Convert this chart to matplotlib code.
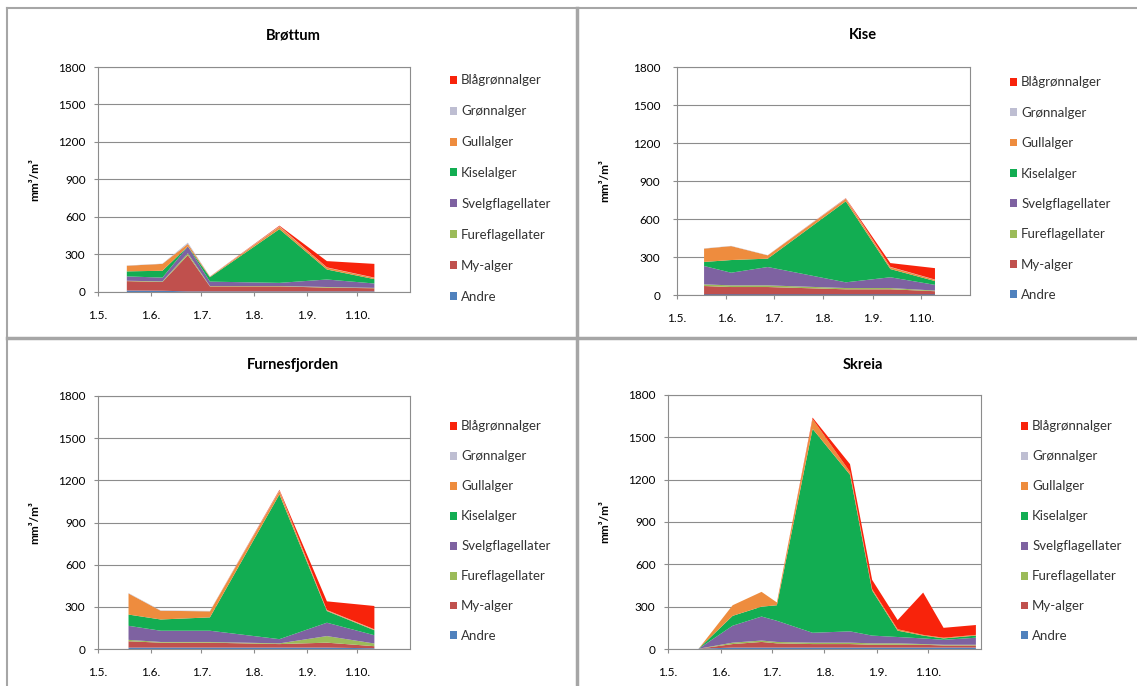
import numpy as np
import pandas as pd
import matplotlib
matplotlib.use('Agg')
import matplotlib.pyplot as plt
import matplotlib.dates as mdates
from matplotlib.lines import Line2D

plt.rcParams['font.family'] = ['Lato', 'DejaVu Sans']

# ── Data (mm3/m3), stacked bottom -> top ─────────────────────────────────
groups = ['Andre', 'My-alger', 'Fureflagellater', 'Svelgflagellater',
          'Kiselalger', 'Gullalger', 'Grønnalger', 'Blågrønnalger']
group_colors = ['#4F81BD', '#C0504D', '#9BBB59', '#7E62A1',
                '#12AD52', '#EE8C3E', '#BEBED2', '#F8230B']

brottum_dates = ['2009-05-18', '2009-06-08', '2009-06-23', '2009-07-06',
                 '2009-08-16', '2009-09-13', '2009-10-11']
brottum = {
    'Andre':            [12, 10, 5, 5, 5, 5, 5],
    'My-alger':         [75, 70, 290, 40, 40, 30, 25],
    'Fureflagellater':  [3, 5, 15, 3, 3, 5, 3],
    'Svelgflagellater': [35, 30, 55, 35, 25, 60, 35],
    'Kiselalger':       [40, 55, 0, 35, 430, 80, 35],
    'Gullalger':        [45, 55, 20, 5, 20, 15, 10],
    'Grønnalger':       [2, 2, 10, 2, 3, 2, 2],
    'Blågrønnalger':    [0, 0, 0, 0, 5, 50, 110],
}

kise_dates = ['2009-05-18', '2009-06-04', '2009-06-27', '2009-08-15',
              '2009-09-12', '2009-10-10']
kise = {
    'Andre':            [5, 5, 5, 5, 5, 5],
    'My-alger':         [66, 58, 58, 40, 40, 25],
    'Fureflagellater':  [13, 13, 13, 10, 10, 5],
    'Svelgflagellater': [145, 100, 145, 45, 85, 45],
    'Kiselalger':       [32, 100, 66, 640, 65, 30],
    'Gullalger':        [105, 110, 26, 20, 15, 10],
    'Grønnalger':       [2, 2, 2, 3, 2, 2],
    'Blågrønnalger':    [0, 0, 0, 2, 30, 90],
}

furnes_dates = ['2009-05-19', '2009-06-07', '2009-07-06', '2009-08-16',
                '2009-09-13', '2009-10-11']
furnes = {
    'Andre':            [10, 10, 10, 10, 10, 5],
    'My-alger':         [45, 35, 35, 25, 35, 15],
    'Fureflagellater':  [10, 5, 5, 5, 47, 19],
    'Svelgflagellater': [100, 80, 80, 30, 95, 59],
    'Kiselalger':       [80, 80, 95, 1030, 83, 35],
    'Gullalger':        [150, 62, 43, 25, 5, 5],
    'Grønnalger':       [3, 3, 3, 3, 2, 2],
    'Blågrønnalger':    [0, 0, 0, 5, 62, 166],
}

skreia_dates = ['2009-05-19', '2009-06-08', '2009-06-25', '2009-07-04',
                '2009-07-25', '2009-08-16', '2009-08-29', '2009-09-13',
                '2009-09-28', '2009-10-10', '2009-10-29']
skreia = {
    'Andre':            [2, 10, 10, 10, 10, 10, 10, 10, 10, 10, 10],
    'My-alger':         [0, 25, 40, 30, 25, 25, 20, 20, 20, 15, 15],
    'Fureflagellater':  [0, 10, 10, 10, 10, 10, 10, 10, 5, 5, 5],
    'Svelgflagellater': [0, 120, 170, 150, 70, 80, 55, 45, 40, 35, 50],
    'Kiselalger':       [0, 70, 70, 110, 1445, 1110, 320, 45, 20, 10, 15],
    'Gullalger':        [0, 75, 105, 20, 70, 20, 10, 10, 5, 5, 5],
    'Grønnalger':       [0, 0, 0, 0, 0, 0, 0, 0, 0, 0, 0],
    'Blågrønnalger':    [0, 0, 0, 0, 10, 55, 65, 65, 300, 70, 70],
}

y_ticks = [0, 300, 600, 900, 1200, 1500, 1800]
x_start, x_end = '2009-05-01', '2009-11-01'

W, H = 1137, 686
fig = plt.figure(figsize=(W / 100, H / 100), dpi=100)
fig.patch.set_facecolor('white')


def fx(px):
    return px / W


def fy(py):
    return 1 - py / H


def month_fmt(x, pos=None):
    d = mdates.num2date(x)
    return f"{d.day}.{d.month}."


def draw_panel(box, title, dates, data, title_xy, leg_xy, ylab_x, spacing, ypad=6):
    left, top, right, bottom = box
    ax = fig.add_axes([fx(left), fy(bottom), fx(right - left), (bottom - top) / H])
    d = pd.to_datetime(dates)
    ax.stackplot(d, *[data[g] for g in groups], colors=group_colors,
                 labels=groups, linewidth=0)
    ax.set_ylim(0, 1800)
    ax.set_yticks(y_ticks)
    ax.set_xlim(pd.Timestamp(x_start), pd.Timestamp(x_end))
    ax.xaxis.set_major_locator(mdates.MonthLocator(bymonth=range(5, 11)))
    ax.xaxis.set_major_formatter(plt.FuncFormatter(month_fmt))
    ax.grid(axis='y', color='#8C8C8C', linewidth=0.8)
    ax.set_axisbelow(True)
    for s in ax.spines.values():
        s.set_color('#8C8C8C')
        s.set_linewidth(0.8)
    ax.tick_params(axis='y', labelsize=8.5, length=3, color='#8C8C8C', pad=ypad)
    ax.tick_params(axis='x', labelsize=8.5, length=3, color='#8C8C8C', pad=10)

    ax.set_ylabel('mm³/m³', fontsize=8.5, fontweight='bold')
    ax.yaxis.set_label_coords((ylab_x - left) / (right - left), 0.5)

    fig.text(fx(title_xy[0]), fy(title_xy[1]), title, fontsize=10.5,
             fontweight='bold', ha='center', va='center')

    handles, labels = ax.get_legend_handles_labels()
    ax.legend(handles[::-1], labels[::-1], loc='upper left',
              bbox_to_anchor=(fx(leg_xy[0]), fy(leg_xy[1])),
              bbox_transform=fig.transFigure, frameon=False, fontsize=9.5,
              handlelength=0.55, handleheight=0.55, handletextpad=0.3,
              borderpad=0, borderaxespad=0, labelspacing=spacing,
              labelcolor='#333333')
    return ax


draw_panel((98, 67, 410, 292), 'Brøttum', brottum_dates, brottum,
           (293, 35), (450, 74.5), 40, 1.43)
draw_panel((677, 67, 970, 295), 'Kise', kise_dates, kise,
           (863, 35), (1010, 76.5), 610, 1.39, ypad=9)
draw_panel((98, 396, 410, 649), 'Furnesfjorden', furnes_dates, furnes,
           (293, 365), (450, 420.5), 40, 1.36)
draw_panel((668, 395, 981, 649), 'Skreia', skreia_dates, skreia,
           (863, 365), (1021, 420.5), 610, 1.36)

# chart frames
frame_col = '#A6A6A6'
fig.add_artist(Line2D([fx(7), fx(7)], [fy(8), fy(686)], color=frame_col, lw=1.5))
fig.add_artist(Line2D([fx(7), fx(1137)], [fy(8), fy(8)], color=frame_col, lw=1.5))
fig.add_artist(Line2D([fx(577), fx(577)], [fy(8), fy(686)], color=frame_col, lw=2.5))
fig.add_artist(Line2D([fx(7), fx(1137)], [fy(338), fy(338)], color=frame_col, lw=2.5))

fig.savefig('out.png', dpi=100, facecolor='white')
